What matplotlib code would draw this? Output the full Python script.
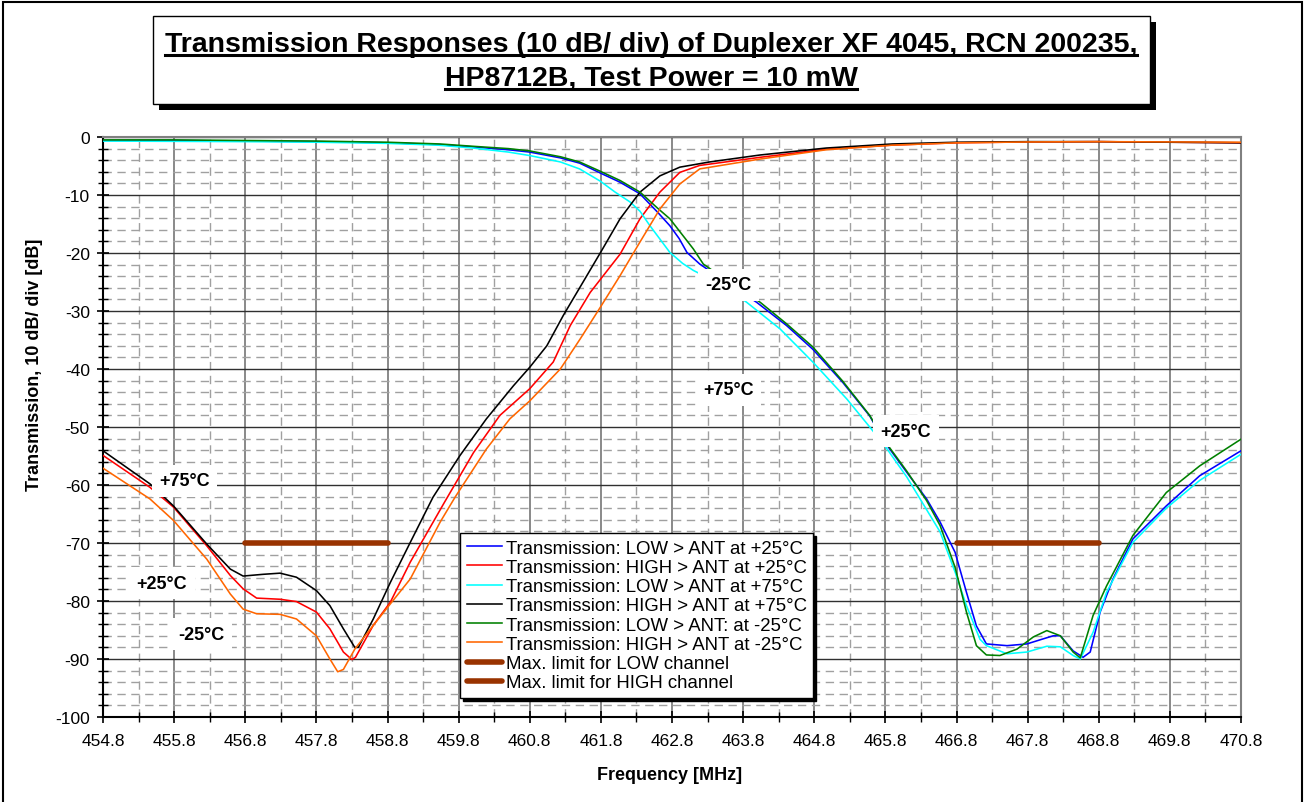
import matplotlib
matplotlib.use("Agg")
import matplotlib.pyplot as plt
from matplotlib.patches import Rectangle
from matplotlib.lines import Line2D
from matplotlib.ticker import FixedLocator, MultipleLocator
import numpy as np

plt.rcParams['font.family'] = ['Liberation Sans', 'DejaVu Sans']
plt.rcParams['axes.unicode_minus'] = False

# ---- data (MHz, dB) ----
low25_f = [454.8, 455.8, 456.8, 457.8, 458.8, 459.5, 460.0, 460.5, 460.8, 461.23, 461.5, 461.79,
           462.07, 462.35, 462.6, 462.77, 462.9, 463.01, 463.19, 463.5, 463.99, 464.41, 464.78,
           465.2, 465.58, 465.79, 466.1, 466.38, 466.57, 466.78, 466.94, 467.08, 467.22, 467.51,
           467.79, 468.0, 468.16, 468.26, 468.44, 468.58, 468.68, 468.82, 469.0, 469.28, 469.75,
           470.22, 470.8]
low25_db = [-0.6, -0.6, -0.7, -0.8, -1.0, -1.3, -1.7, -2.2, -2.6, -3.6, -4.5, -6.2,
            -7.8, -9.8, -13.0, -15.3, -17.5, -19.9, -21.9, -24.5, -28.5, -32.5, -36.6,
            -42.3, -48.1, -52.6, -57.8, -62.4, -66.4, -71.6, -78.5, -84.3, -87.4, -87.7,
            -87.4, -86.6, -86.0, -86.0, -88.6, -89.7, -88.8, -81.9, -76.2, -69.3, -63.6,
            -58.4, -54.1]

high25_f = [454.8, 455.46, 455.79, 456.26, 456.59, 456.77, 456.96, 457.29, 457.52, 457.8, 457.99,
            458.18, 458.3, 458.35, 458.6, 458.84, 459.12, 459.6, 460.01, 460.38, 460.8, 461.13,
            461.37, 461.65, 462.07, 462.35, 462.63, 462.91, 463.19, 464.04, 464.97, 465.9,
            466.8, 467.8, 468.8, 469.8, 470.8]
high25_db = [-54.9, -60.4, -63.8, -70.5, -75.6, -77.9, -79.5, -79.7, -80.1, -81.9, -84.8,
             -88.8, -90.1, -89.7, -84.2, -80.2, -73.3, -63.0, -54.4, -48.0, -43.4, -38.8,
             -32.5, -26.8, -20.2, -14.1, -9.5, -6.1, -4.9, -3.5, -2.1, -1.4,
             -1.0, -0.85, -0.8, -0.9, -1.0]

low75_f = [454.8, 455.8, 456.8, 457.8, 458.8, 459.5, 460.0, 460.5, 460.8, 461.23, 461.5, 461.79,
           462.0, 462.21, 462.35, 462.49, 462.77, 462.95, 463.1, 463.5, 463.85, 464.32, 464.78,
           465.26, 465.58, 465.79, 466.1, 466.57, 466.78, 466.94, 467.13, 467.22, 467.51,
           467.79, 468.07, 468.26, 468.44, 468.54, 468.72, 468.91, 469.28, 469.75, 470.22, 470.8]
low75_db = [-0.7, -0.75, -0.8, -0.9, -1.1, -1.4, -1.9, -2.6, -3.2, -4.3, -5.5, -7.6,
            -9.5, -11.2, -12.8, -15.3, -19.9, -21.8, -23.0, -25.5, -28.5, -33.1, -38.8,
            -45.2, -50.0, -53.2, -58.6, -68.1, -75.0, -80.8, -86.6, -87.7, -89.1,
            -88.8, -87.8, -87.9, -89.4, -90.0, -85.4, -78.5, -69.9, -64.0, -59.2, -54.7]

high75_f = [454.8, 455.46, 455.79, 456.26, 456.59, 456.77, 457.05, 457.29, 457.52, 457.8, 457.99,
            458.18, 458.34, 458.39, 458.6, 458.84, 459.12, 459.44, 459.82, 460.19, 460.57, 460.8,
            461.04, 461.27, 461.55, 461.81, 462.07, 462.35, 462.63, 462.91, 463.33, 464.04,
            464.97, 465.9, 466.8, 467.8, 468.8, 469.8, 470.8]
high75_db = [-54.1, -59.8, -63.6, -70.2, -74.5, -75.7, -75.4, -75.2, -75.9, -78.2, -80.8,
             -84.8, -88.0, -88.0, -83.1, -76.8, -69.9, -62.1, -54.9, -48.6, -42.9, -39.7,
             -36.0, -30.8, -25.0, -19.6, -14.1, -9.5, -6.7, -5.2, -4.3, -3.1,
             -1.9, -1.2, -0.9, -0.8, -0.8, -0.9, -1.0]

lowm25_f = [454.8, 455.8, 456.8, 457.8, 458.8, 459.54, 460.0, 460.5, 460.8, 461.23, 461.5, 461.79,
            462.07, 462.35, 462.6, 462.77, 463.1, 463.24, 463.6, 464.04, 464.41, 464.78, 465.2,
            465.58, 465.79, 466.1, 466.38, 466.57, 466.78, 466.94, 467.08, 467.22, 467.41,
            467.65, 467.88, 468.07, 468.26, 468.44, 468.54, 468.72, 468.91, 469.28, 469.75,
            470.22, 470.8]
lowm25_db = [-0.5, -0.5, -0.6, -0.7, -0.9, -1.2, -1.6, -2.0, -2.4, -3.4, -4.3, -5.9,
             -7.5, -9.5, -12.3, -14.1, -19.3, -21.9, -25.0, -28.5, -32.2, -36.2, -42.1,
             -48.0, -52.4, -57.6, -62.7, -67.0, -74.2, -81.9, -87.7, -89.3, -89.4,
             -88.3, -86.2, -85.1, -86.0, -88.8, -89.8, -82.5, -77.4, -68.7, -61.3,
             -56.7, -52.1]

highm25_f = [454.8, 455.46, 455.79, 456.26, 456.59, 456.77, 456.96, 457.29, 457.52, 457.8, 457.99,
             458.1, 458.18, 458.34, 458.6, 458.84, 459.12, 459.54, 459.75, 460.19, 460.52, 460.8,
             461.23, 461.51, 461.79, 462.07, 462.35, 462.63, 462.91, 463.19, 464.04, 464.97,
             465.9, 466.8, 467.8, 468.8, 469.8, 470.8]
highm25_db = [-57.1, -62.4, -66.1, -72.8, -78.8, -81.4, -82.2, -82.3, -83.1, -86.0, -90.0,
              -92.2, -91.8, -88.3, -84.2, -80.5, -76.2, -66.4, -62.1, -53.8, -48.6, -45.5,
              -40.0, -34.8, -29.4, -23.9, -18.1, -12.4, -8.1, -5.5, -3.8, -2.2,
              -1.4, -1.0, -0.85, -0.8, -0.85, -0.9]

limit_low_f = [456.8, 458.8]
limit_high_f = [466.8, 468.8]
limit_db = [-70, -70]

series_labels = ['Transmission: LOW > ANT at +25°C', 'Transmission: HIGH > ANT at +25°C',
                 'Transmission: LOW > ANT at +75°C', 'Transmission: HIGH > ANT at +75°C',
                 'Transmission: LOW > ANT: at -25°C', 'Transmission: HIGH > ANT at -25°C',
                 'Max. limit for LOW channel', 'Max. limit for HIGH channel']
series_colors = ['#0000ff', '#ff0000', '#00ffff', '#000000', '#008000', '#ff6600']

x_ticks = [454.8, 455.8, 456.8, 457.8, 458.8, 459.8, 460.8, 461.8, 462.8, 463.8,
           464.8, 465.8, 466.8, 467.8, 468.8, 469.8, 470.8]
y_ticks = [-100, -90, -80, -70, -60, -50, -40, -30, -20, -10, 0]

# curve labels: text, freq, dB
temp_labels = [('+75°C', 455.95, -59.3), ('+25°C', 455.63, -76.9), ('-25°C', 456.19, -85.7),
               ('-25°C', 463.59, -25.5), ('+75°C', 463.59, -43.6), ('+25°C', 466.09, -50.7)]

W, H = 1306, 803
fig = plt.figure(figsize=(W / 100, H / 100), dpi=100)
ax = fig.add_axes([103 / W, 1 - 718 / H, 1138 / W, 580 / H])

curves = [(low25_f, low25_db), (high25_f, high25_db), (low75_f, low75_db),
          (high75_f, high75_db), (lowm25_f, lowm25_db), (highm25_f, highm25_db)]
handles = []
for (f, db), c, lab in zip(curves, series_colors, series_labels):
    h, = ax.plot(f, db, color=c, lw=1.15, label=lab, zorder=3, solid_joinstyle='round')
    handles.append(h)
for f, lab in [(limit_low_f, series_labels[6]), (limit_high_f, series_labels[7])]:
    h, = ax.plot(f, limit_db, color='#993300', lw=4, solid_capstyle='round', label=lab, zorder=4)
    handles.append(h)

ax.set_xlim(454.8, 470.8)
ax.set_ylim(-100, 0)
ax.xaxis.set_major_locator(FixedLocator(x_ticks))
ax.xaxis.set_minor_locator(FixedLocator([v + 0.5 for v in x_ticks[:-1]]))
ax.set_xticklabels([f'{v:.1f}' for v in x_ticks])
ax.yaxis.set_major_locator(FixedLocator(y_ticks))
ax.yaxis.set_minor_locator(MultipleLocator(2))

ax.set_axisbelow(True)
ax.grid(which='major', axis='x', color='#808080', lw=1.3)
ax.grid(which='major', axis='y', color='#303030', lw=1.0)
ax.grid(which='minor', color='#a0a0a0', lw=1.0, ls=(0, (6, 4)))

ax.tick_params(which='major', direction='inout', length=9, width=1.2, labelsize=12.5)
ax.tick_params(which='minor', direction='inout', length=7, width=1.0)
ax.tick_params(axis='x', which='major', pad=7)
ax.tick_params(axis='y', which='major', pad=5)
for s in ['left', 'bottom']:
    ax.spines[s].set_linewidth(1.5)
for s in ['top', 'right']:
    ax.spines[s].set_color('#808080')
    ax.spines[s].set_linewidth(1.5)

for txt, f, db in temp_labels:
    ax.text(f, db, txt, ha='center', va='center', fontsize=13, fontweight='bold', zorder=6,
            bbox=dict(boxstyle='square,pad=0.4', fc='white', ec='none'))

leg = ax.legend(handles=handles, loc='upper left', bbox_to_anchor=((460 - 103) / 1138, 1 - (534 - 138) / 580),
                borderaxespad=0, fontsize=13.4, fancybox=False, edgecolor='black', framealpha=1,
                shadow={'color': 'black', 'alpha': 1}, handlelength=1.9, handletextpad=0.2,
                labelspacing=0.12, borderpad=0.35)
leg.get_frame().set_linewidth(1.0)
leg.set_zorder(10)

fig.text(670 / W, 1 - 776 / H, 'Frequency [MHz]', ha='center', va='center', fontsize=13, fontweight='bold')
fig.text(35 / W, 1 - 365 / H, 'Transmission, 10 dB/ div [dB]', ha='center', va='center',
         rotation=90, fontsize=13, fontweight='bold')

# title box with shadow
fig.patches.append(Rectangle((159 / W, 1 - 111 / H), 997 / W, 88 / H, transform=fig.transFigure,
                             fc='black', ec='none', zorder=0))
fig.patches.append(Rectangle((153 / W, 1 - 105 / H), 997 / W, 88 / H, transform=fig.transFigure,
                             fc='white', ec='black', lw=1.0, zorder=1))
# outer frame
fig.patches.append(Rectangle((3 / W, -0.02), 1299 / W, 1 - 3 / H + 0.02, transform=fig.transFigure,
                             fill=False, ec='black', lw=1.5, zorder=0))

t1 = fig.text(651 / W, 1 - 45 / H, 'Transmission Responses (10 dB/ div) of Duplexer XF 4045, RCN 200235,',
              ha='center', va='center', fontsize=20.5, fontweight='bold', zorder=3)
t2 = fig.text(651 / W, 1 - 79 / H, 'HP8712B, Test Power = 10 mW',
              ha='center', va='center', fontsize=20.5, fontweight='bold', zorder=3)
renderer = fig.canvas.get_renderer()
for t in (t1, t2):
    bb = t.get_window_extent(renderer)
    y = bb.y0 + 2
    fig.add_artist(Line2D([bb.x0 / W, bb.x1 / W], [y / H, y / H], transform=fig.transFigure,
                          color='black', lw=2.2, zorder=3))

fig.savefig('out.png', dpi=100)
